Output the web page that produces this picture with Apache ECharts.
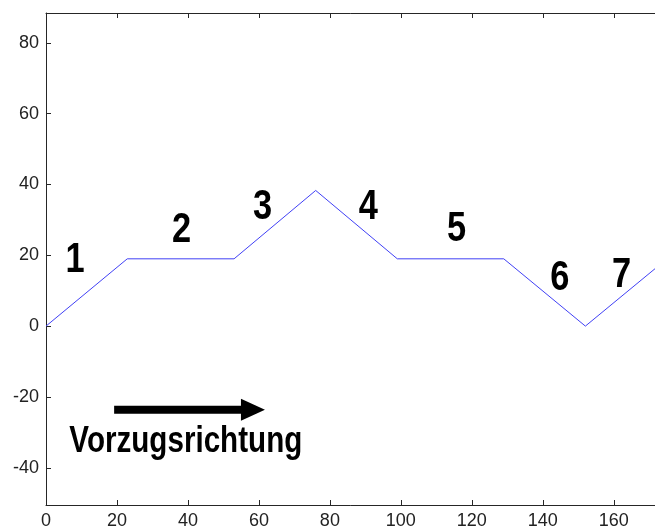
<!DOCTYPE html>
<html>
<head>
<meta charset="utf-8">
<script src="https://cdn.jsdelivr.net/npm/echarts@6/dist/echarts.min.js"></script>
<style>
  html, body { margin: 0; padding: 0; background: #ffffff; }
  #chart { width: 655px; height: 529px; }
</style>
</head>
<body>
<div id="chart"></div>
<script>
// Path of the track: position along the route (x) and height (y)
var pathX = [0, 22.9, 53, 76, 99, 129, 152, 175];
var pathY = [0, 19, 19, 38.3, 19, 19, 0, 19];

// Axis ticks
var xTicks = [0, 20, 40, 60, 80, 100, 120, 140, 160];
var yTicks = [-40, -20, 0, 20, 40, 60, 80];

// Segment numbers and where they sit (data coordinates)
var segLabels = ['1', '2', '3', '4', '5', '6', '7'];
var segX = [8.2, 38.2, 61, 90.8, 115.7, 144.8, 162.2];
var segY = [18.6, 27, 33.6, 33.6, 27.4, 13.6, 14.4];

// Preferred direction annotation
var dirText = 'Vorzugsrichtung';
var dirTextPos = [39.4, -32.6];
var arrowFrom = [19.2, -23.6];
var arrowTo = [61.7, -23.6];

// Narrow bold lettering: a regular bold face squeezed horizontally
var boldFont = '"Liberation Sans", Arial, sans-serif';
var narrow = 0.8;
var tickFont = '"Liberation Sans", "DejaVu Sans", sans-serif';

var chart = echarts.init(document.getElementById('chart'), null, { renderer: 'canvas' });

var linePoints = pathX.map(function (x, i) { return [x, pathY[i]]; });

var axisLine = { show: true, onZero: false, lineStyle: { color: '#262626', width: 1 } };
var axisTick = { show: true, inside: true, length: 5, lineStyle: { color: '#262626', width: 1 } };

var option = {
  backgroundColor: '#ffffff',
  animation: false,
  // the plot box runs past the right edge of the canvas
  grid: { left: 46, top: 13, width: 621, bottom: 24, containLabel: false, outerBoundsMode: 'none' },
  xAxis: [
    {
      type: 'value', position: 'bottom', min: 0, max: 175,
      axisLine: axisLine,
      axisTick: Object.assign({ customValues: xTicks }, axisTick),
      axisLabel: { customValues: xTicks, color: '#222', fontSize: 18, fontFamily: tickFont, margin: 7 },
      splitLine: { show: false }
    },
    {
      type: 'value', position: 'top', min: 0, max: 175,
      axisLine: axisLine,
      axisTick: Object.assign({ customValues: xTicks }, axisTick),
      axisLabel: { show: false },
      splitLine: { show: false }
    }
  ],
  yAxis: [
    {
      type: 'value', position: 'left', min: -50.5, max: 88.4,
      axisLine: axisLine,
      axisTick: Object.assign({ customValues: yTicks }, axisTick),
      axisLabel: { customValues: yTicks, color: '#222', fontSize: 18, fontFamily: tickFont, margin: 7 },
      splitLine: { show: false }
    }
  ],
  series: [
    {
      type: 'line',
      data: linePoints,
      symbol: 'none',
      lineStyle: { color: '#4040f5', width: 1 },
      clip: true
    }
  ]
};

chart.setOption(option);

function toPx(p) {
  return chart.convertToPixel({ xAxisIndex: 0, yAxisIndex: 0 }, p);
}

function drawAnnotations() {
  var items = [];

  segLabels.forEach(function (s, i) {
    var p = toPx([segX[i], segY[i]]);
    items.push({
      type: 'text', x: p[0], y: p[1], scaleX: narrow, silent: true,
      style: { text: s, fill: '#000', font: 'bold 43px ' + boldFont, align: 'center', verticalAlign: 'middle' }
    });
  });

  var a0 = toPx(arrowFrom);
  var a1 = toPx(arrowTo);
  var headLen = 24, headHalf = 11, shaftHalf = 4;
  items.push({
    type: 'polygon', silent: true,
    shape: {
      points: [
        [a0[0], a0[1] - shaftHalf],
        [a1[0] - headLen, a1[1] - shaftHalf],
        [a1[0] - headLen, a1[1] - headHalf],
        [a1[0], a1[1]],
        [a1[0] - headLen, a1[1] + headHalf],
        [a1[0] - headLen, a1[1] + shaftHalf],
        [a0[0], a0[1] + shaftHalf]
      ]
    },
    style: { fill: '#000' }
  });

  var t = toPx(dirTextPos);
  items.push({
    type: 'text', x: t[0], y: t[1], scaleX: narrow, silent: true,
    style: { text: dirText, fill: '#000', font: 'bold 37px ' + boldFont, align: 'center', verticalAlign: 'middle' }
  });

  chart.setOption({ graphic: items });
}
drawAnnotations();
</script>
</body>
</html>
